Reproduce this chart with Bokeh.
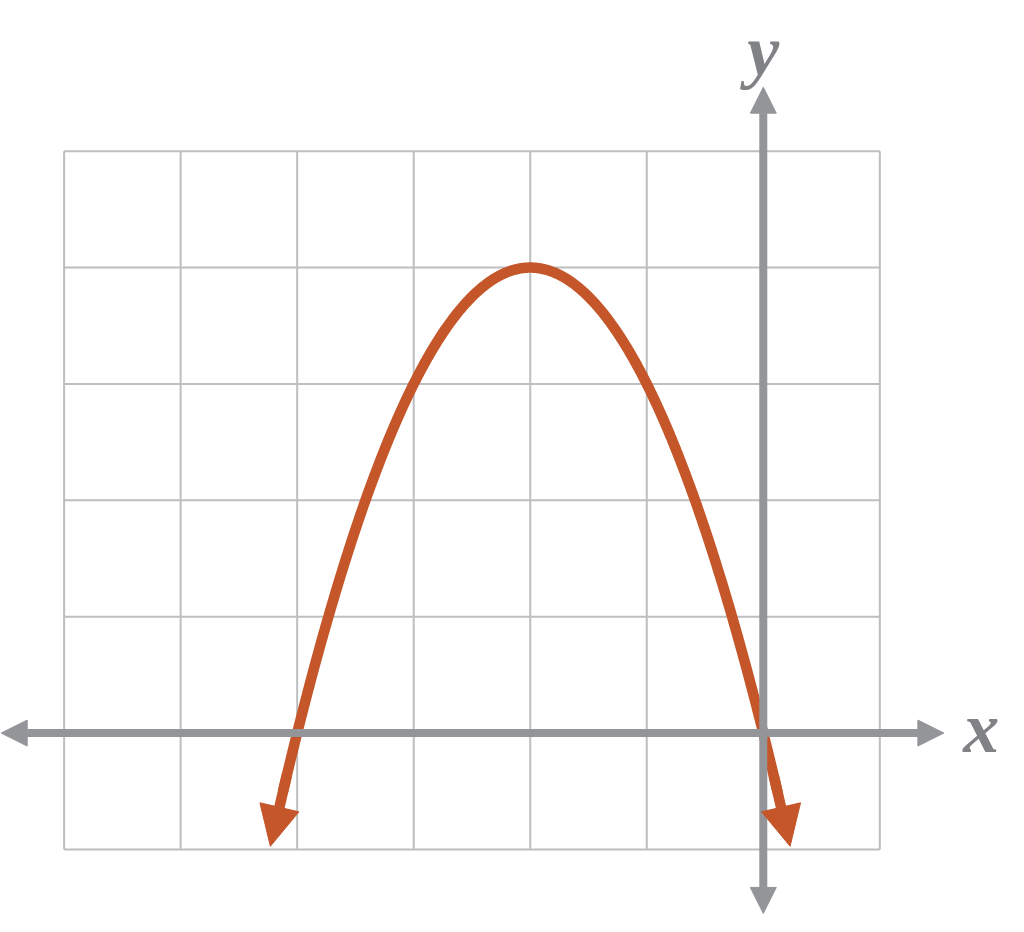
import numpy as np
from bokeh.plotting import figure
from bokeh.models import Arrow, NormalHead
from bokeh.core.properties import value
from bokeh.embed import file_html
from bokeh.resources import INLINE

# grid extent (units)
grid_x = [-6, -5, -4, -3, -2, -1, 0, 1]
grid_y = [-1, 0, 1, 2, 3, 4, 5]

# axis arrow extents
x_axis_ends = [-6.54, 1.55]
y_axis_ends = [-1.55, 5.55]

# parabola: vertex (-2, 4), roots at -4 and 0
vertex_x = -2.0
vertex_y = 4.0
a_coef = -1.0
curve_x_ends = [-4.23, 0.23]

GRID = "#bcbec0"
AXIS = "#939598"
CURVE = "#c4562a"
LABEL = "#808285"

p = figure(width=1004, height=914, x_range=(-6.546, 2.070), y_range=(-1.559, 6.295),
           output_backend="svg", toolbar_location=None, min_border=0,
           outline_line_color=None)
p.axis.visible = False
p.grid.visible = False

# grid lines
p.segment(x0=grid_x, y0=[grid_y[0]] * len(grid_x), x1=grid_x, y1=[grid_y[-1]] * len(grid_x),
          line_color=GRID, line_width=2)
p.segment(x0=[grid_x[0]] * len(grid_y), y0=grid_y, x1=[grid_x[-1]] * len(grid_y), y1=grid_y,
          line_color=GRID, line_width=2)

# axes with arrow heads at both ends
def axis_head():
    return NormalHead(size=26, fill_color=AXIS, line_color=AXIS, line_width=1)

p.add_layout(Arrow(x_start=x_axis_ends[0], y_start=0, x_end=x_axis_ends[1], y_end=0,
                   line_color=AXIS, line_width=8, start=axis_head(), end=axis_head()))
p.add_layout(Arrow(x_start=0, y_start=y_axis_ends[0], x_end=0, y_end=y_axis_ends[1],
                   line_color=AXIS, line_width=8, start=axis_head(), end=axis_head()))

# parabola
def f(x):
    return a_coef * (x - vertex_x) ** 2 + vertex_y

xs = np.linspace(curve_x_ends[0] + 0.11, curve_x_ends[1] - 0.11, 400)
p.line(xs, f(xs), line_color=CURVE, line_width=10.5, line_cap="round")

for xe, xb in [(curve_x_ends[0], curve_x_ends[0] + 0.14), (curve_x_ends[1], curve_x_ends[1] - 0.14)]:
    p.add_layout(Arrow(x_start=xb, y_start=f(xb), x_end=xe, y_end=f(xe),
                       line_color=CURVE, line_width=10.5,
                       end=NormalHead(size=40, fill_color=CURVE, line_color=CURVE, line_width=1)))

# axis labels
p.text(x=[0], y=[5.86], text=["y"], text_align="center", text_baseline="middle",
       text_font=value("Liberation Serif"), text_font_style="bold italic",
       text_font_size="72px", text_color=LABEL)
p.text(x=[1.87], y=[0.04], text=["x"], text_align="center", text_baseline="middle",
       text_font=value("Liberation Serif"), text_font_style="bold italic",
       text_font_size="72px", text_color=LABEL)

open("out.html", "w").write(file_html(p, INLINE))
